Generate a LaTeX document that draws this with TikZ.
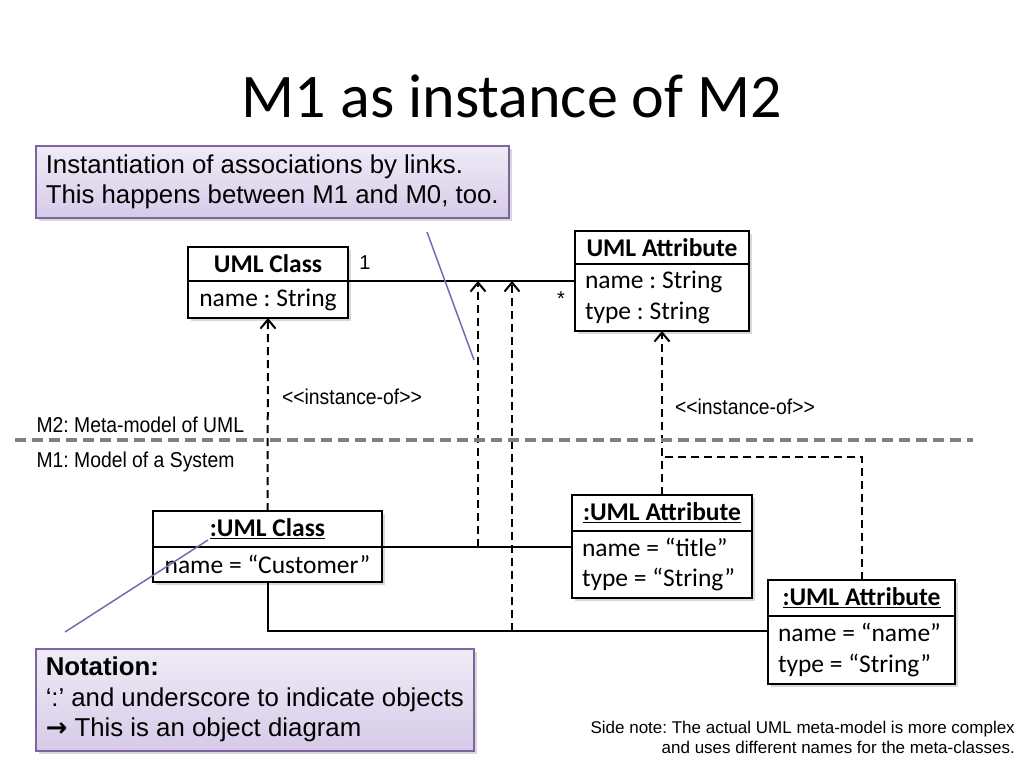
\documentclass[tikz,border=0pt]{standalone}
\usepackage{fontspec}
\setmainfont{Liberation Sans}
\newfontfamily\umlfont{Carlito}
\newfontfamily\narrowfont[FakeStretch=0.9]{Liberation Sans}
\newfontfamily\arrowfont{DejaVu Sans}
\usetikzlibrary{arrows.meta,positioning,shadows}
\definecolor{notedraw}{HTML}{8064A2}
\definecolor{notetop}{HTML}{EFEBF6}
\definecolor{notebot}{HTML}{D6CBE8}
\definecolor{pointer}{HTML}{7A68B0}

\begin{document}
\frenchspacing
\begin{tikzpicture}[x=1pt,y=-1pt,
    box/.style={draw, fill=white, line width=1.8pt, inner sep=0pt, outer sep=0pt,
        drop shadow={shadow xshift=2.5pt, shadow yshift=-2.5pt, opacity=0.3}},
    head/.style={box, font=\umlfont\fontsize{25.5}{30}\selectfont\bfseries, minimum height=35pt},
    body/.style={box, font=\umlfont\fontsize{25.5}{30.5}\selectfont, align=flush left, inner xsep=10pt},
    dashln/.style={line width=2pt, dash pattern=on 8pt off 5pt},
    inst/.style={dashln, -{Straight Barb[length=9pt, width=15pt]}},
    link/.style={line width=2pt},
    lvl/.style={font=\narrowfont\fontsize{21.5}{24}\selectfont},
    mult/.style={font=\fontsize{20}{24}\selectfont},
    note/.style={draw=notedraw, line width=1.5pt, top color=notetop, bottom color=notebot,
        align=flush left, inner xsep=10pt, font=\fontsize{25.8}{30.5}\selectfont,
        drop shadow={shadow xshift=3pt, shadow yshift=-3pt, opacity=0.3}},
    ptr/.style={pointer, line width=1.5pt}]
    \fill[white] (0,0) rectangle (1024,768);
    \useasboundingbox (0,0) rectangle (1024,768);

    \node[font=\umlfont\fontsize{62}{70}\selectfont] (title) at (512,96) {M1 as instance of M2};

    \node[note, anchor=north west, text width=453pt, minimum height=72pt] (note_links) at (35,145)
        {Instantiation of associations by links.\\This happens between M1 and M0, too.};
    \node[note, anchor=north west, text width=418pt, minimum height=102pt] (note_obj) at (35,648)
        {\textbf{Notation:}\\‘:’ and underscore to indicate objects\\{\arrowfont\bfseries →} This is an object diagram};

    \node[head, minimum width=160pt, minimum height=34pt] (cls) at (268,264) {UML Class};
    \node[body, minimum width=160pt, minimum height=37pt, below=0pt of cls] (cls_b) {name : String};
    \node[head, minimum width=174pt, minimum height=33pt] (attr) at (662,247.5) {UML Attribute};
    \node[body, text width=154pt, minimum height=67pt, below=0pt of attr] (attr_b) {name : String\\type : String};

    \node[head, minimum width=229pt, minimum height=36pt] (ocls) at (267.5,529) {\underline{:UML Class}};
    \node[body, minimum width=229pt, minimum height=35pt, below=0pt of ocls] (ocls_b) {name = “Customer”};
    \node[head, minimum width=180pt, minimum height=36pt] (oattr_1) at (662,513) {\underline{:UML Attribute}};
    \node[body, text width=160pt, minimum height=67pt, below=0pt of oattr_1] (oattr_1b) {name = “title”\\type = “String”};
    \node[head, minimum width=187pt, minimum height=36pt] (oattr_2) at (861.5,598) {\underline{:UML Attribute}};
    \node[body, text width=167pt, minimum height=68pt, below=0pt of oattr_2] (oattr_2b) {name = “name”\\type = “String”};

    \draw[link] (cls.south east) -- (cls.south east -| attr_b.west);
    \node[mult] (m_one) at (365,263) {1};
    \node[mult] (m_many) at (561,299) {*};

    \draw[link] (ocls_b.north east) -- (ocls_b.north east -| oattr_1b.west);
    \draw[link] (ocls_b.south) |- ([yshift=19pt]oattr_2b.west);

    \coordinate (lnk_1) at (478,547);
    \coordinate (lnk_2) at (512,631);
    \coordinate (bend) at (662,457);
    \draw[inst] (ocls.north) -- (cls_b.south);
    \draw[inst] (oattr_1.north) -- (attr_b.south);
    \draw[dashln] (oattr_2.north) |- (bend);
    \draw[inst] (lnk_1) -- (lnk_1 |- cls.south east);
    \draw[inst] (lnk_2) -- (lnk_2 |- cls.south east);

    \node[lvl] (inst_1) at (352,397) {<\kern0pt<instance-of>\kern0pt>};
    \node[lvl] (inst_2) at (745,407) {<\kern0pt<instance-of>\kern0pt>};

    \draw[gray, line width=3.5pt, dash pattern=on 11pt off 6pt] (15,440) -- (973,440);
    \node[lvl, anchor=west] (lvl_m2) at (33,425) {M2: Meta-model of UML};
    \node[lvl, anchor=west] (lvl_m1) at (33,462) {M1: Model of a System};

    \coordinate (ptr_1a) at (427,232);
    \coordinate (ptr_1b) at (474,360);
    \coordinate (ptr_2a) at (65,632);
    \coordinate (ptr_2b) at (208,540);
    \draw[ptr] (ptr_1a) -- (ptr_1b);
    \draw[ptr] (ptr_2a) -- (ptr_2b);

    \node[anchor=north east, align=right, inner sep=0pt, font=\fontsize{17}{20}\selectfont] (side) at (1015,721)
        {Side note: The actual UML meta-model is more complex\\and uses different names for the meta-classes.};
\end{tikzpicture}
\end{document}
